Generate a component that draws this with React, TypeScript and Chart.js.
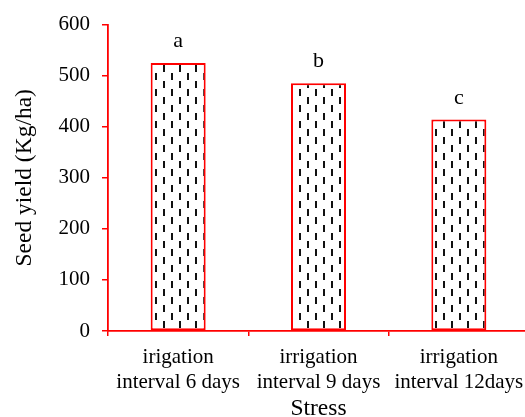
import React, { useEffect, useRef } from 'react';
import { Chart, registerables } from 'chart.js';

Chart.register(...registerables);

const categories: string[][] = [
  ['irigation', 'interval 6 days'],
  ['irrigation', 'interval 9 days'],
  ['irrigation', 'interval 12days'],
];
const seedYield: number[] = [525, 485, 414];
const groupLetters: string[] = ['a', 'b', 'c'];
const yTicks: number[] = [0, 100, 200, 300, 400, 500, 600];

const FONT = '"Liberation Serif", "Times New Roman", serif';
const RED = '#ff0000';

export default function App() {
  const ref = useRef<HTMLCanvasElement>(null);

  useEffect(() => {
    const canvas = ref.current!;
    const ctx = canvas.getContext('2d')!;
    const tile = document.createElement('canvas');
    tile.width = 16;
    tile.height = 16;
    const t = tile.getContext('2d')!;
    t.fillStyle = '#ffffff';
    t.fillRect(0, 0, 16, 16);
    t.fillStyle = '#111111';
    t.fillRect(3, 1, 2, 7);
    t.fillRect(11, 9, 2, 7);
    const pattern = ctx.createPattern(tile, 'repeat')!;

    const letterPlugin = {
      id: 'groupLetters',
      afterDatasetsDraw(chart: any) {
        const meta = chart.getDatasetMeta(0);
        const c = chart.ctx;
        c.save();
        c.font = `22px ${FONT}`;
        c.fillStyle = '#000';
        c.textAlign = 'center';
        c.textBaseline = 'alphabetic';
        meta.data.forEach((el: any, i: number) => {
          c.fillText(groupLetters[i], el.x, el.y - 16);
        });
        c.restore();
      },
    };

    const chart = new Chart(canvas, {
      type: 'bar',
      data: {
        labels: categories,
        datasets: [
          {
            data: seedYield,
            backgroundColor: pattern,
            borderColor: RED,
            borderWidth: 2,
            borderSkipped: false,
            barPercentage: 0.392,
            categoryPercentage: 1,
          },
        ],
      },
      options: {
        responsive: false,
        animation: false,
        devicePixelRatio: 1,
        layout: { padding: { top: 22, right: 16, bottom: 0, left: 0 } },
        plugins: { legend: { display: false }, tooltip: { enabled: false } },
        scales: {
          x: {
            type: 'category',
            offset: true,
            grid: {
              display: true,
              drawOnChartArea: false,
              drawTicks: true,
              tickLength: 5,
              color: RED,
              lineWidth: 1.5,
              offset: true,
            },
            border: { display: true, color: RED, width: 1.8 },
            ticks: {
              color: '#000',
              font: { family: FONT, size: 21, lineHeight: 1.19 },
              padding: 8.5,
              maxRotation: 0,
              minRotation: 0,
              autoSkip: false,
            },
            title: {
              display: true,
              text: 'Stress',
              color: '#000',
              font: { family: FONT, size: 23.5, lineHeight: 0.68 },
              padding: { top: 0, bottom: 0 },
            },
            afterFit: (s: any) => {
              s.height = 86;
            },
          },
          y: {
            min: 0,
            max: 600,
            afterBuildTicks: (s: any) => {
              s.ticks = yTicks.map((v) => ({ value: v }));
            },
            ticks: {
              color: '#000',
              font: { family: FONT, size: 21 },
              padding: 12,
            },
            grid: {
              drawOnChartArea: false,
              drawTicks: true,
              tickLength: 6,
              color: RED,
              lineWidth: 1.5,
            },
            border: { display: true, color: RED, width: 1.8 },
            title: {
              display: true,
              text: 'Seed yield (Kg/ha)',
              color: '#000',
              font: { family: FONT, size: 23.5, lineHeight: 1.2 },
              padding: { top: 10.9, bottom: 0 },
            },
            afterFit: (s: any) => {
              s.width = 108;
            },
          },
        },
      },
      plugins: [letterPlugin],
    } as any);

    return () => chart.destroy();
  }, []);

  return (
    <div
      style={{
        position: 'fixed',
        left: 0,
        top: 0,
        width: 525,
        height: 417,
        overflow: 'hidden',
        background: '#fff',
      }}
    >
      <canvas
        ref={ref}
        width={545}
        height={417}
        style={{ display: 'block', width: 545, height: 417 }}
      />
    </div>
  );
}
